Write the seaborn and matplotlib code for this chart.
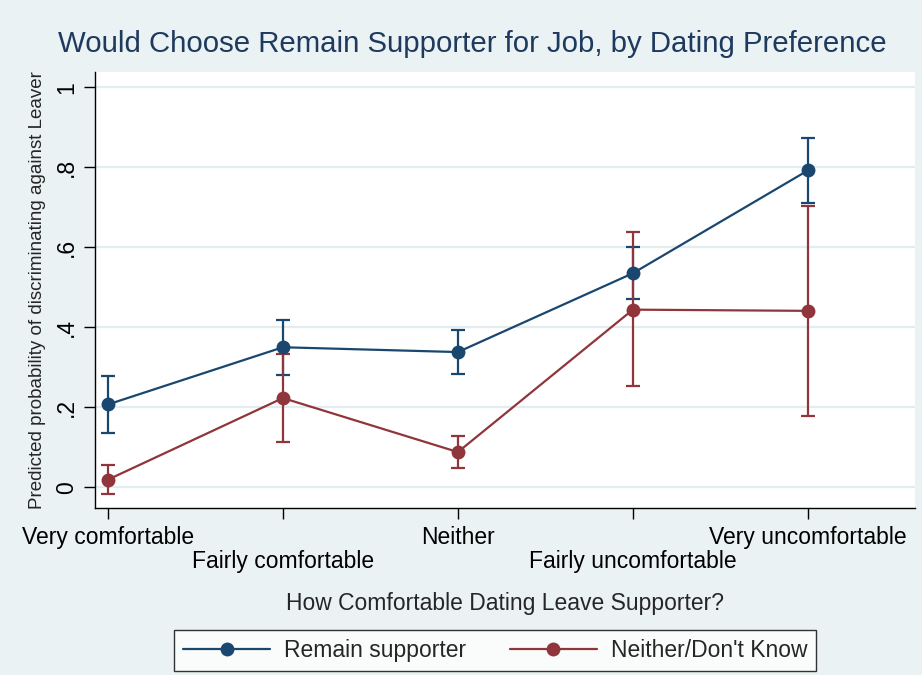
import numpy as np
import pandas as pd
import seaborn as sns
import matplotlib.pyplot as plt

categories = ["Very comfortable", "Fairly comfortable", "Neither",
              "Fairly uncomfortable", "Very uncomfortable"]
series_names = ["Remain supporter", "Neither/Don't Know"]

remain = [0.207, 0.350, 0.338, 0.535, 0.792]
remain_lo = [0.135, 0.280, 0.284, 0.470, 0.710]
remain_hi = [0.278, 0.418, 0.393, 0.600, 0.874]

neither = [0.019, 0.223, 0.088, 0.444, 0.441]
neither_lo = [-0.018, 0.113, 0.049, 0.252, 0.178]
neither_hi = [0.055, 0.334, 0.129, 0.637, 0.703]

colors = ["#1A476F", "#90353B"]
bg = "#EAF2F3"

df = pd.DataFrame({
    "x": list(range(len(categories))) * 2,
    "y": remain + neither,
    "lo": remain_lo + neither_lo,
    "hi": remain_hi + neither_hi,
    "series": [series_names[0]] * 5 + [series_names[1]] * 5,
})

sns.set_style("white")
plt.rcParams["font.family"] = ["Liberation Sans", "DejaVu Sans"]

fig = plt.figure(figsize=(9.22, 6.75), dpi=100, facecolor=bg)
ax = fig.add_axes([0.103, 0.247, 0.889, 0.646])
ax.set_facecolor("white")

# confidence intervals first, lines on top
for name, c in zip(series_names, colors):
    d = df[df["series"] == name]
    ax.errorbar(d["x"], d["y"], yerr=[d["y"] - d["lo"], d["hi"] - d["y"]],
                fmt="none", ecolor=c, elinewidth=1.6, capsize=5, capthick=1.6,
                zorder=2)

sns.lineplot(data=df, x="x", y="y", hue="series", palette=colors,
             marker="o", markersize=10, markeredgewidth=0, linewidth=1.6,
             ax=ax, legend=False, zorder=3)

ax.set_xlim(-0.074, 4.61)
ax.set_ylim(-0.0525, 1.0375)
ax.set_yticks([0, 0.2, 0.4, 0.6, 0.8, 1.0])
ax.set_yticklabels(["0", ".2", ".4", ".6", ".8", "1"], rotation=90, va="center")
ax.set_xticks(range(len(categories)))
ax.set_xticklabels(categories)
for i, t in enumerate(ax.xaxis.get_major_ticks()):
    t.set_pad(5 if i % 2 == 0 else 22)

ax.grid(axis="y", color="#E3ECEE", linewidth=1.6)
ax.set_axisbelow(True)
for s in ["top", "right"]:
    ax.spines[s].set_visible(False)
for s in ["left", "bottom"]:
    ax.spines[s].set_color("black")
    ax.spines[s].set_linewidth(1.0)
ax.tick_params(axis="both", which="major", direction="out", length=8,
               width=1.0, color="black", labelsize=16.5, labelcolor="black",
               left=True, bottom=True)
ax.tick_params(axis="y", pad=4)

ax.set_xlabel("How Comfortable Dating Leave Supporter?", fontsize=16.5,
              labelpad=14)
ax.set_ylabel("Predicted probability of discriminating against Leaver",
              fontsize=13.5, labelpad=7)

fig.suptitle("Would Choose Remain Supporter for Job, by Dating Preference",
             fontsize=21.2, color="#1F3A5F", x=0.512, y=0.955)

handles = [plt.Line2D([], [], color=c, marker="o", markersize=10,
                      markeredgewidth=0, linewidth=1.6) for c in colors]
leg = fig.legend(handles, series_names, loc="center", ncol=2,
                 bbox_to_anchor=(0.537, 0.036), fontsize=16.5,
                 frameon=True, fancybox=False, handlelength=3.8,
                 columnspacing=1.9, borderpad=0.4, handletextpad=0.6)
leg.get_frame().set_edgecolor("black")
leg.get_frame().set_linewidth(1.0)
leg.get_frame().set_facecolor("white")

fig.savefig("out.png", dpi=100, facecolor=bg)
